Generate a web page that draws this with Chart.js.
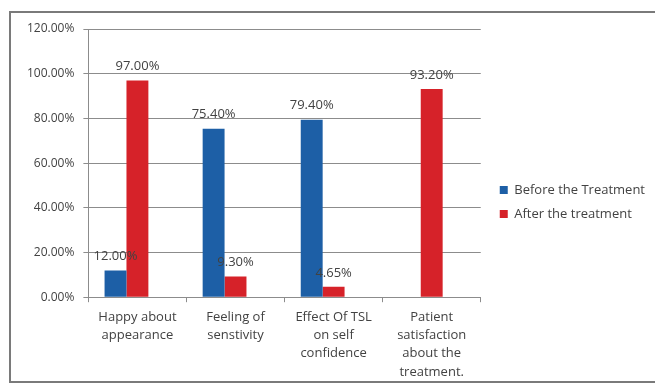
<!DOCTYPE html>
<html>
<head>
<meta charset="utf-8">
<script src="https://cdn.jsdelivr.net/npm/chart.js@4/dist/chart.umd.min.js"></script>
<style>
  html, body { margin: 0; padding: 0; background: #fff; }
  #wrap { position: relative; width: 655px; height: 385px; overflow: hidden; }
  #frame { position: absolute; left: 9px; top: 11px; width: 660px; height: 372px;
           border: 2px solid #7a7a7a; box-sizing: border-box; pointer-events: none; }
  canvas { position: absolute; left: 0; top: 0; }
</style>
</head>
<body>
<div id="wrap">
  <canvas id="chart" width="655" height="385"></canvas>
  <div id="frame"></div>
</div>
<script>
// Survey results before / after treatment (percent)
const categories = [
  ['Happy about', 'appearance'],
  ['Feeling of', 'senstivity'],
  ['Effect Of TSL', 'on self', 'confidence'],
  ['Patient', 'satisfaction', 'about the', 'treatment.'],
];
const beforeValues = [12.0, 75.4, 79.4, null];
const afterValues = [97.0, 9.3, 4.65, 93.2];
// empty third series keeps the spacing of the clustered columns
const spareValues = [null, null, null, null];

const seriesNames = ['Before the Treatment', 'After the treatment', ''];
const seriesColors = ['#1d5fa6', '#d62229', 'rgba(0,0,0,0)'];

const textColor = '#424242';
const gridColor = '#8c8c8c';

const pct = (v) => v.toFixed(2) + '%';

// value labels above each column
const barLabels = {
  id: 'barLabels',
  afterDatasetsDraw(chart) {
    const ctx = chart.ctx;
    ctx.save();
    ctx.font = '13px "Open Sans", sans-serif';
    ctx.fillStyle = textColor;
    ctx.textAlign = 'center';
    ctx.textBaseline = 'middle';
    [0, 1].forEach((di) => {
      const meta = chart.getDatasetMeta(di);
      chart.data.datasets[di].data.forEach((v, i) => {
        if (v === null) return;
        const bar = meta.data[i];
        ctx.fillText(pct(v), bar.x, bar.y - 14);
      });
    });
    ctx.restore();
  },
};

// leave a gap between the plot and the legend, and move the legend block
const legendGap = 15;
const legendShift = { x: 8, y: -6 };
const legendSpacing = {
  id: 'legendSpacing',
  beforeInit(chart) {
    const legend = chart.legend;
    const fit = legend.fit;
    legend.fit = function () {
      fit.call(this);
      this.width += legendGap;
    };
  },
  afterLayout(chart) {
    const legend = chart.legend;
    legend.left += legendShift.x;
    legend.top += legendShift.y;
    legend.bottom += legendShift.y;
  },
};

new Chart(document.getElementById('chart'), {
  type: 'bar',
  data: {
    labels: categories,
    datasets: [
      { label: seriesNames[0], data: beforeValues, backgroundColor: seriesColors[0] },
      { label: seriesNames[1], data: afterValues, backgroundColor: seriesColors[1] },
      { label: seriesNames[2], data: spareValues, backgroundColor: seriesColors[2] },
    ],
  },
  options: {
    responsive: false,
    animation: false,
    events: [],
    layout: { padding: { left: 18, top: 29, right: 0, bottom: -2 } },
    datasets: {
      bar: { categoryPercentage: 0.67, barPercentage: 1.0 },
    },
    plugins: {
      tooltip: { enabled: false },
      legend: {
        position: 'right',
        labels: {
          color: textColor,
          font: { family: '"Open Sans", sans-serif', size: 13 },
          boxWidth: 8,
          boxHeight: 8,
          padding: 11,
          filter: (item) => item.datasetIndex < 2,
        },
      },
    },
    scales: {
      x: {
        grid: {
          drawOnChartArea: false,
          drawTicks: true,
          tickLength: 5,
          color: gridColor,
        },
        border: { display: true, color: gridColor, width: 1 },
        ticks: {
          color: textColor,
          font: { family: '"Open Sans", sans-serif', size: 13, lineHeight: 1.4 },
          padding: 6,
          maxRotation: 0,
          autoSkip: false,
        },
      },
      y: {
        min: 0,
        max: 120,
        grid: { color: gridColor, tickLength: 5 },
        border: { display: true, color: gridColor, width: 1 },
        ticks: {
          stepSize: 20,
          color: textColor,
          font: { family: '"Open Sans", sans-serif', size: 12 },
          padding: 9,
          callback: (v) => pct(v),
        },
      },
    },
  },
  plugins: [barLabels, legendSpacing],
});
</script>
</body>
</html>
